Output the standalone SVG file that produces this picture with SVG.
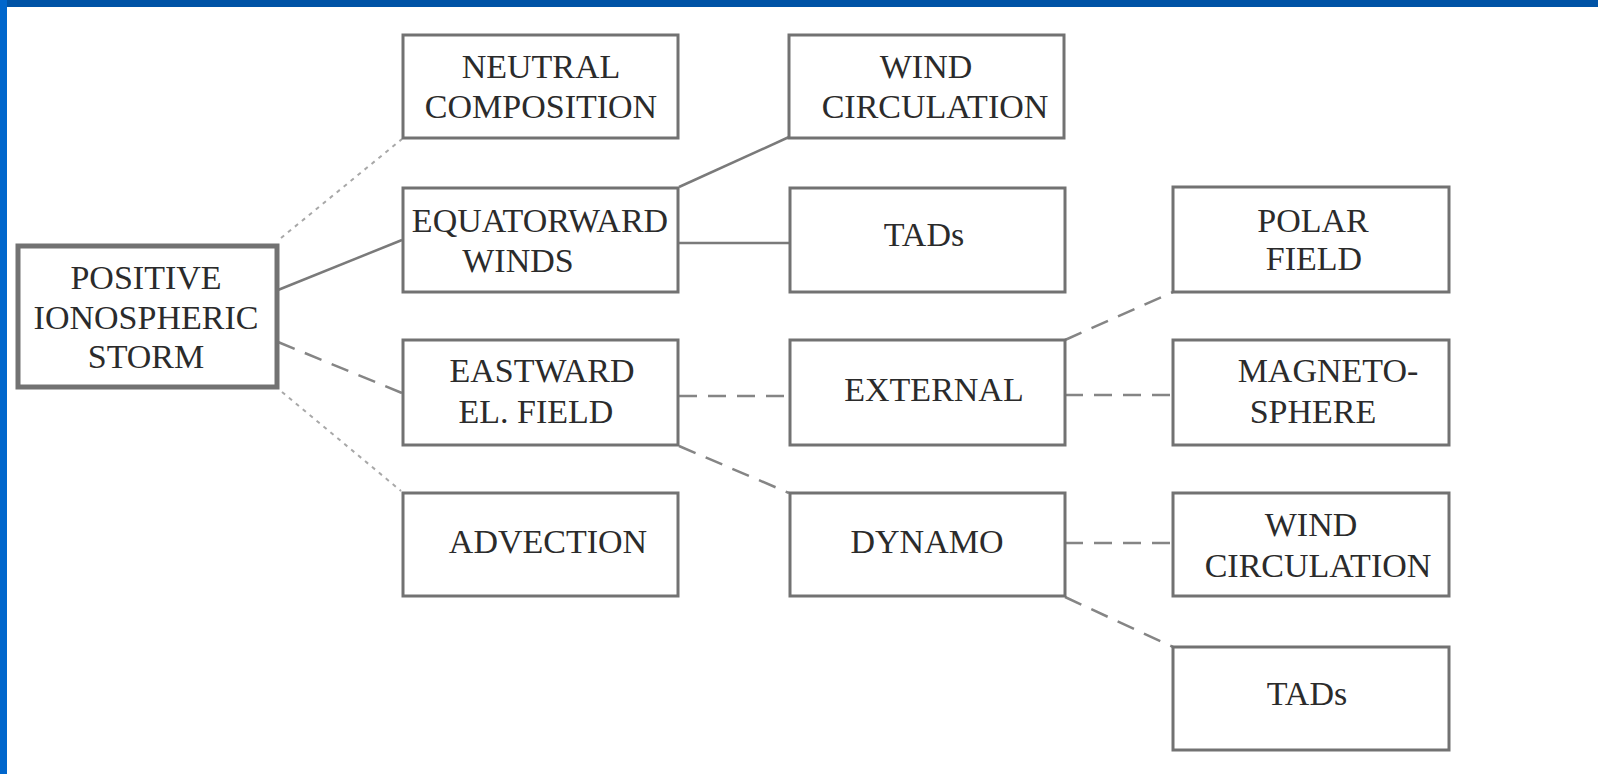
<svg xmlns="http://www.w3.org/2000/svg" width="1598" height="774" viewBox="0 0 1598 774">
<style>
.box{fill:#ffffff;stroke:#727272;stroke-width:3}
.main{fill:#ffffff;stroke:#727272;stroke-width:5}
.t{font-family:"Liberation Serif","Times New Roman",serif;font-size:34px;fill:#2b2b2b;text-anchor:middle}
.solid{stroke:#7a7a7a;stroke-width:2.5;fill:none}
.dash{stroke:#858585;stroke-width:2.5;fill:none;stroke-dasharray:18 11}
.dot{stroke:#a8a8a8;stroke-width:2;fill:none;stroke-dasharray:4 5}
</style>
<rect x="0" y="0" width="1598" height="774" fill="#ffffff"/>
<rect x="0" y="0" width="1598" height="7" fill="#0053a6"/>
<rect x="0" y="0" width="7" height="774" fill="#0066cc"/>
<g id="connectors">
<line class="dot" x1="281" y1="238" x2="402" y2="139"/>
<line class="solid" x1="278" y1="290" x2="402" y2="240"/>
<line class="dash" x1="278" y1="342" x2="402" y2="393"/>
<line class="dot" x1="282" y1="392" x2="401" y2="491"/>
<line class="solid" x1="679" y1="187" x2="789" y2="137"/>
<line class="solid" x1="679" y1="243" x2="789" y2="243"/>
<line class="dash" x1="679" y1="396" x2="789" y2="396"/>
<line class="dash" x1="679" y1="446" x2="789" y2="493"/>
<line class="dash" x1="1065" y1="340" x2="1173" y2="292"/>
<line class="dash" x1="1065" y1="395" x2="1173" y2="395"/>
<line class="dash" x1="1065" y1="543" x2="1173" y2="543"/>
<line class="dash" x1="1065" y1="597" x2="1173" y2="647"/>
</g>
<g id="positive">
<rect class="main" x="18" y="246" width="259" height="141"/>
<text class="t" x="146" y="289">POSITIVE</text>
<text class="t" x="146" y="329">IONOSPHERIC</text>
<text class="t" x="146" y="368">STORM</text>
</g>
<g id="neutral">
<rect class="box" x="403" y="35" width="275" height="103"/>
<text class="t" x="541" y="78">NEUTRAL</text>
<text class="t" x="541" y="118">COMPOSITION</text>
</g>
<g id="wind-top">
<rect class="box" x="789" y="35" width="275" height="103"/>
<text class="t" x="926" y="78">WIND</text>
<text class="t" x="935" y="118">CIRCULATION</text>
</g>
<g id="equatorward">
<rect class="box" x="403" y="188" width="275" height="104"/>
<text class="t" x="540" y="232">EQUATORWARD</text>
<text class="t" x="518" y="272">WINDS</text>
</g>
<g id="tads-mid">
<rect class="box" x="790" y="188" width="275" height="104"/>
<text class="t" x="924" y="246">TADs</text>
</g>
<g id="polar">
<rect class="box" x="1173" y="187" width="276" height="105"/>
<text class="t" x="1313" y="232">POLAR</text>
<text class="t" x="1314" y="270">FIELD</text>
</g>
<g id="eastward">
<rect class="box" x="403" y="340" width="275" height="105"/>
<text class="t" x="542" y="382">EASTWARD</text>
<text class="t" x="536" y="423">EL. FIELD</text>
</g>
<g id="external">
<rect class="box" x="790" y="340" width="275" height="105"/>
<text class="t" x="934" y="401">EXTERNAL</text>
</g>
<g id="magnetosphere">
<rect class="box" x="1173" y="340" width="276" height="105"/>
<text class="t" x="1328" y="382">MAGNETO-</text>
<text class="t" x="1313" y="423">SPHERE</text>
</g>
<g id="advection">
<rect class="box" x="403" y="493" width="275" height="103"/>
<text class="t" x="548" y="553">ADVECTION</text>
</g>
<g id="dynamo">
<rect class="box" x="790" y="493" width="275" height="103"/>
<text class="t" x="927" y="553">DYNAMO</text>
</g>
<g id="wind-right">
<rect class="box" x="1173" y="493" width="276" height="103"/>
<text class="t" x="1311" y="536">WIND</text>
<text class="t" x="1318" y="577">CIRCULATION</text>
</g>
<g id="tads-bottom">
<rect class="box" x="1173" y="647" width="276" height="103"/>
<text class="t" x="1307" y="705">TADs</text>
</g>
</svg>
